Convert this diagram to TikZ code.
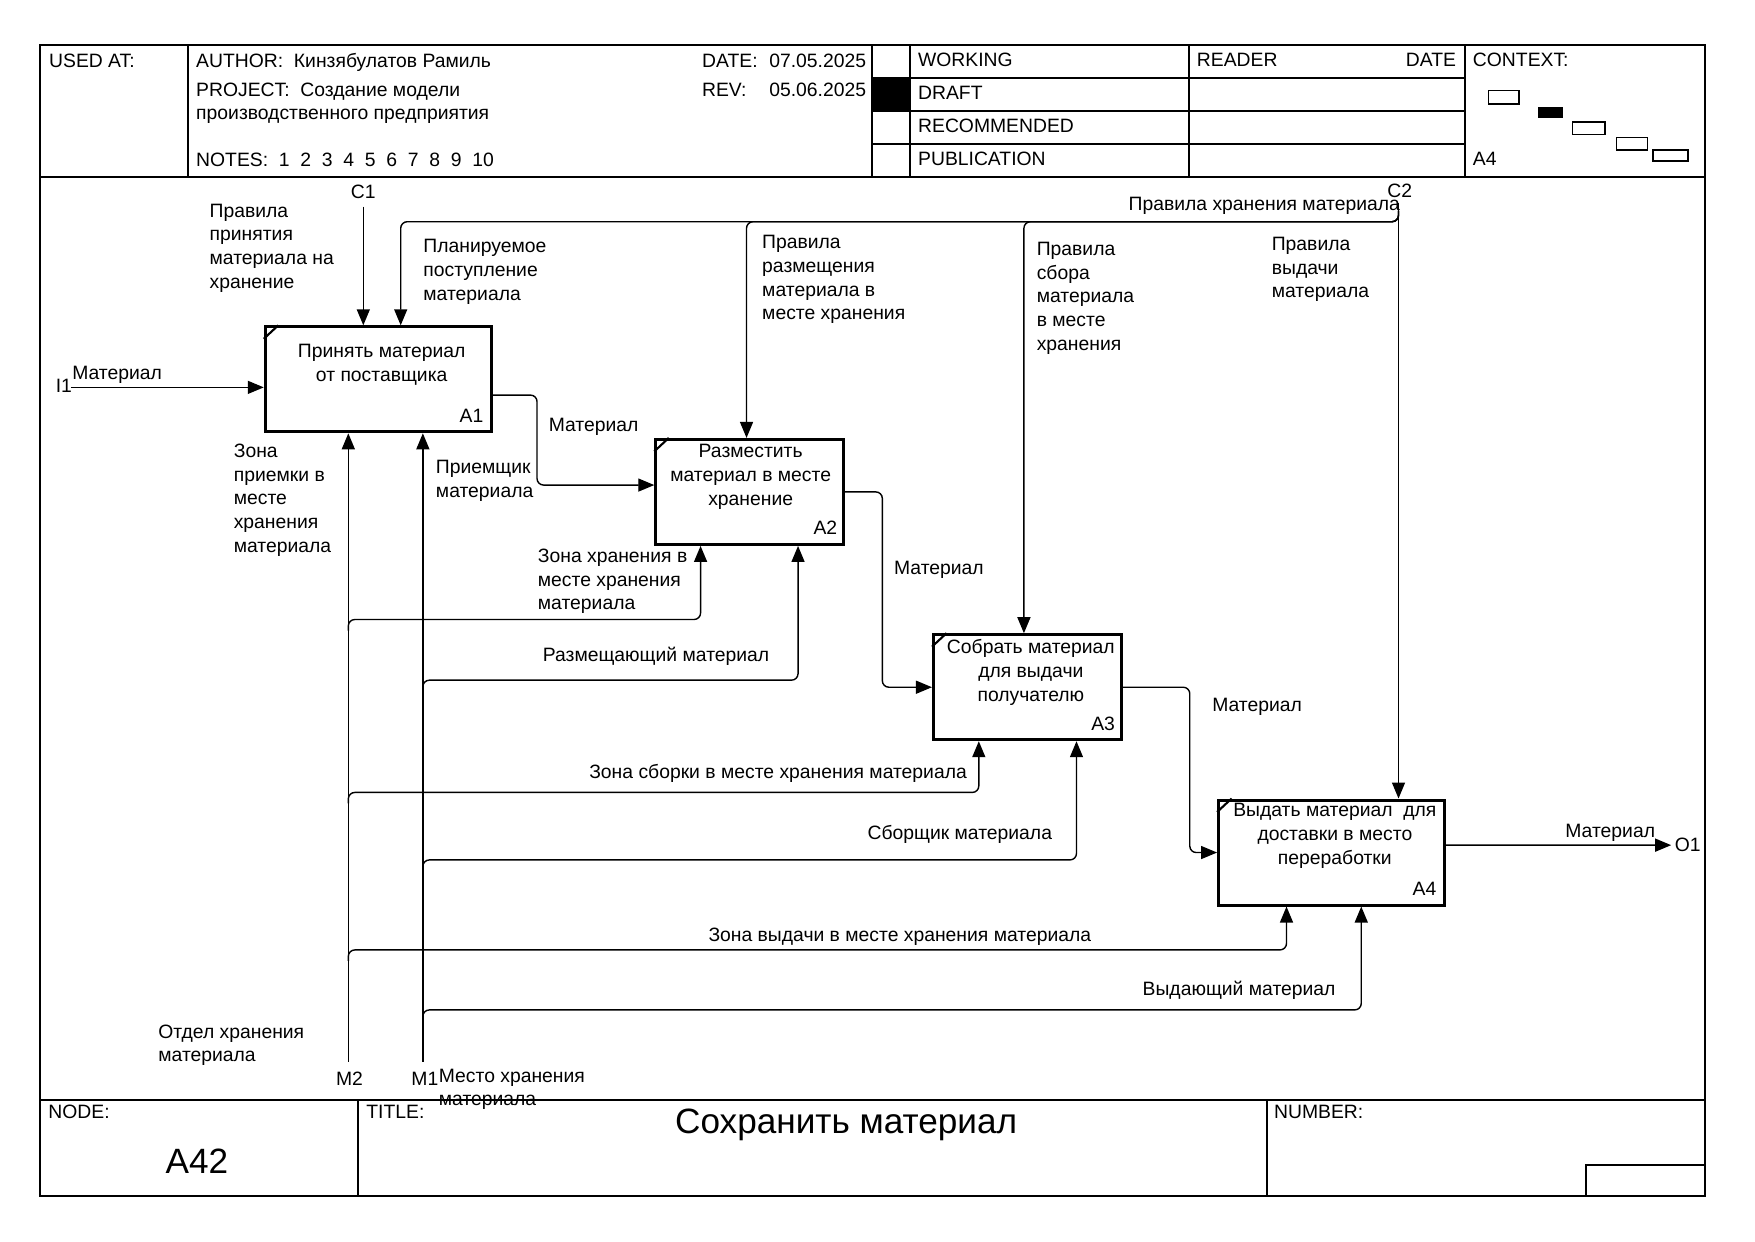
\documentclass[tikz,border=0pt]{standalone}
\usepackage{fontspec}
\setmainfont{Liberation Sans}
\usetikzlibrary{arrows.meta, positioning}

\begin{document}
\begin{tikzpicture}[x=0.2238mm, y=-0.2238mm, font=\fontsize{11}{13.5}\selectfont]
		\tikzstyle{Box} = [rectangle, draw=black, line width=1.7pt, minimum height=21mm, inner sep=0pt]
		\tikzstyle{arrow} = [line width=0.8pt, -{Triangle[length=3.2mm,width=2.6mm]}]
		\tikzstyle{Line} = [line width=0.8pt, rounded corners=1.3mm]
		\tikzstyle{frame} = [line width=1pt]
		\tikzstyle{lbl} = [inner sep=0pt, anchor=base west]
		\tikzstyle{mlbl} = [inner sep=0pt, anchor=north west, align=left]
		\tikzstyle{btext} = [inner sep=0pt, anchor=north, align=center]
		\tikzstyle{bnum} = [inner sep=0pt, anchor=base east]
		\tikzstyle{big} = [inner sep=0pt, anchor=base, font=\fontsize{20}{24}\selectfont]
		
		\useasboundingbox (0,0) rectangle (1568,1109);
		
		% frame, header and footer
		\draw [frame] (35.9,40.2) rectangle (1523.2,1068.5);
		\draw [frame] (35.9,157.9) -- (1523.2,157.9);
		\draw [frame] (35.9,983) -- (1523.2,983);
		\foreach \x in {167.8, 778.8, 812.7, 1062.4, 1309}
			\draw [frame] (\x,40.2) -- (\x,157.9);
		\foreach \y in {69.4, 99.2, 128.7}
			\draw [frame] (778.8,\y) -- (1309,\y);
		\fill [black] (778.8,69.4) rectangle (812.7,99.2);
		\draw [frame] (319.6,983) -- (319.6,1068.5);
		\draw [frame] (1132,983) -- (1132,1068.5);
		\draw [frame] (1417,1068.5) -- (1417,1041.1) -- (1523.2,1041.1);
		
		\node (usedat) [lbl] at (43.6,60.5) {USED AT:};
		\node (author) [lbl] at (175,60.5) {AUTHOR:~ Кинзябулатов Рамиль};
		\node (project) [mlbl] at (175,73.6) {PROJECT:~ Создание модели\\производственного предприятия};
		\node (notes) [lbl] at (175,149) {NOTES:~ 1~ 2~ 3~ 4~ 5~ 6~ 7~ 8~ 9~ 10};
		\node (date) [lbl] at (627,60.5) {DATE:};
		\node (dateval) [lbl] at (687,60.5) {07.05.2025};
		\node (rev) [lbl] at (627,85.8) {REV:};
		\node (revval) [lbl] at (687,85.8) {05.06.2025};
		\node (working) [lbl] at (820,59.6) {WORKING};
		\node (draft) [lbl] at (820,88.8) {DRAFT};
		\node (recom) [lbl] at (820,118.6) {RECOMMENDED};
		\node (public) [lbl] at (820,148.1) {PUBLICATION};
		\node (reader) [lbl] at (1069.1,59.6) {READER};
		\node (rdate) [bnum] at (1301.2,59.6) {DATE};
		\node (context) [lbl] at (1315.7,59.6) {CONTEXT:};
		\node (ctxnode) [lbl] at (1315.7,148.1) {A4};
		
		% context boxes
		\draw [line width=0.8pt] (1330,81) rectangle (1357,93);
		\fill [black] (1374,96) rectangle (1396,105);
		\draw [line width=0.8pt] (1405,109) rectangle (1434,120);
		\draw [line width=0.8pt] (1444,123) rectangle (1472,134);
		\draw [line width=0.8pt] (1477,134) rectangle (1508,144);
		
		\node (nodelbl) [lbl] at (43,999.4) {NODE:};
		\node (titlelbl) [lbl] at (327,999.4) {TITLE:};
		\node (numberlbl) [lbl] at (1138,999.4) {NUMBER:};
		\node (nodeid) [big] at (176,1048.5) {A42};
		\node (title) [big] at (756,1013) {Сохранить материал};
		
		% activity boxes
		\node (A1) [Box, minimum width=45.16mm] at (337.9,338.9) {};
		\node (A2) [Box, minimum width=37.55mm] at (669.8,439.5) {};
		\node (A3) [Box, minimum width=37.55mm] at (917.9,614) {};
		\node (A4) [Box, minimum width=45.1mm] at (1189.5,761.7) {};
		
		\node (A1t) [btext] at ([xshift=0.7mm, yshift=-3.67mm]A1.north) {Принять материал\\от поставщика};
		\node (A2t) [btext] at ([xshift=0.2mm, yshift=-1.23mm]A2.north) {Разместить\\материал в месте\\хранение};
		\node (A3t) [btext] at ([xshift=0.7mm, yshift=-1.16mm]A3.north) {Собрать материал\\для выдачи\\получателю};
		\node (A4t) [btext] at ([xshift=0.7mm, yshift=-0.9mm]A4.north) {Выдать материал~ для\\доставки в место\\переработки};
		
		\node (A1n) [bnum] at ([xshift=-1.8mm, yshift=2.2mm]A1.south east) {A1};
		\node (A2n) [bnum] at ([xshift=-1.5mm, yshift=2.2mm]A2.south east) {A2};
		\node (A3n) [bnum] at ([xshift=-1.5mm, yshift=2.2mm]A3.south east) {A3};
		\node (A4n) [bnum] at ([xshift=-1.8mm, yshift=2.2mm]A4.south east) {A4};
		
		\draw [line width=1.2pt] ([yshift=-2.7mm]A1.north west) -- ([xshift=2.9mm]A1.north west);
		\draw [line width=1.2pt] ([yshift=-2.7mm]A2.north west) -- ([xshift=2.9mm]A2.north west);
		\draw [line width=1.2pt] ([yshift=-2.7mm]A3.north west) -- ([xshift=2.9mm]A3.north west);
		\draw [line width=1.2pt] ([yshift=-2.7mm]A4.north west) -- ([xshift=2.9mm]A4.north west);
		
		% boundary points
		\coordinate (I1) at (63.3,346.1);
		\coordinate (C1) at (324.6,184.7);
		\coordinate (C2) at (1249.5,181);
		\coordinate (O1) at (1493.1,755.1);
		\coordinate (M2) at (311.2,948.8);
		\coordinate (M1) at (377.8,948.8);
		\coordinate (cbus) at (1249.5,198.1);
		\coordinate (m2a) at (311.2,553.5);
		\coordinate (m2b) at (311.2,708);
		\coordinate (m2c) at (311.2,848.7);
		\coordinate (m1a) at (377.8,607.7);
		\coordinate (m1b) at (377.8,768.3);
		\coordinate (m1c) at (377.8,902.3);
		
		% inputs, controls, outputs
		\draw [arrow] (I1) -- (I1 -| A1.west);
		\draw [arrow] (C1) -- (C1 |- A1.north);
		\draw [arrow] (C2) -- (C2 |- A4.north);
		\draw [arrow, Line] ([yshift=2.2mm]cbus) -- (cbus) -| ([xshift=4.5mm]A1.north);
		\draw [arrow, Line] ([yshift=2.2mm]cbus) -- (cbus) -| ([xshift=-0.63mm]A2.north);
		\draw [arrow, Line] ([yshift=2.2mm]cbus) -- (cbus) -| ([xshift=-0.69mm]A3.north);
		\draw [arrow, Line] ([yshift=-3.16mm]A1.east) -- ++(8.88mm,0) |- ([yshift=1.37mm]A2.west);
		\draw [arrow, Line] (A2.east) -- ++(7.45mm,0) |- (A3.west);
		\draw [arrow, Line] (A3.east) -- ++(13.4mm,0) |- (A4.west);
		\draw [arrow] ([yshift=1.48mm]A4.east) -- (O1);
		
		% mechanisms
		\draw [arrow] (M2) -- (M2 |- A1.south);
		\draw [arrow] (M1) -- (M1 |- A1.south);
		\draw [arrow, Line] ([yshift=-2.2mm]m2a) -- (m2a) -| ([xshift=-9.82mm]A2.south);
		\draw [arrow, Line] ([yshift=-2.2mm]m1a) -- (m1a) -| ([xshift=9.67mm]A2.south);
		\draw [arrow, Line] ([yshift=-2.2mm]m2b) -- (m2b) -| ([xshift=-9.71mm]A3.south);
		\draw [arrow, Line] ([yshift=-2.2mm]m1b) -- (m1b) -| ([xshift=9.82mm]A3.south);
		\draw [arrow, Line] ([yshift=-2.2mm]m2c) -- (m2c) -| ([xshift=-8.97mm]A4.south);
		\draw [arrow, Line] ([yshift=-2.2mm]m1c) -- (m1c) -| ([xshift=5.98mm]A4.south);
		
		% arrow labels
		\node (lI1) [lbl] at (49.6,350.6) {I1};
		\node (lC1) [inner sep=0pt, anchor=base] at (324.6,177.2) {C1};
		\node (lC2) [inner sep=0pt, anchor=base] at (1250.5,176.6) {C2};
		\node (lO1) [lbl] at (1496,760.5) {O1};
		\node (lM2) [lbl] at (300,969.6) {M2};
		\node (lM1) [lbl] at (367.3,969.6) {M1};
		
		\node (tin) [lbl] at (64.3,338.7) {Материал};
		\node (t12) [lbl] at (490,385.8) {Материал};
		\node (t23) [lbl] at (798.5,513.3) {Материал};
		\node (t34) [lbl] at (1082.8,635.4) {Материал};
		\node (tout) [lbl] at (1398.3,748.3) {Материал};
		\node (tc2) [bnum] at (1251,188.3) {Правила хранения материала};
		\node (tc1) [mlbl] at (187,181.7) {Правила\\принятия\\материала на\\хранение};
		\node (tp1) [mlbl] at (378,213.6) {Планируемое\\поступление\\материала};
		\node (tp2) [mlbl] at (680.7,210) {Правила\\размещения\\материала в\\месте хранения};
		\node (tp3) [mlbl] at (926,216) {Правила\\сбора\\материала\\в месте\\хранения};
		\node (tp4) [mlbl] at (1136,211.5) {Правила\\выдачи\\материала};
		\node (tz1) [mlbl] at (208.6,396.2) {Зона\\приемки в\\месте\\хранения\\материала};
		\node (tw1) [mlbl] at (389.2,411) {Приемщик\\материала};
		\node (tz2) [mlbl] at (480.3,490) {Зона хранения в\\месте хранения\\материала};
		\node (tw2) [lbl] at (484.7,591.3) {Размещающий материал};
		\node (tz3) [lbl] at (526.2,695.6) {Зона сборки в месте хранения материала};
		\node (tw3) [lbl] at (774.8,750) {Сборщик материала};
		\node (tz4) [lbl] at (632.7,841.5) {Зона выдачи в месте хранения материала};
		\node (tw4) [lbl] at (1020.6,889.8) {Выдающий материал};
		\node (tm2) [mlbl] at (141.2,915.1) {Отдел хранения\\материала};
		\node (tm1) [mlbl] at (391.8,954.7) {Место хранения\\материала};
\end{tikzpicture}
\end{document}
